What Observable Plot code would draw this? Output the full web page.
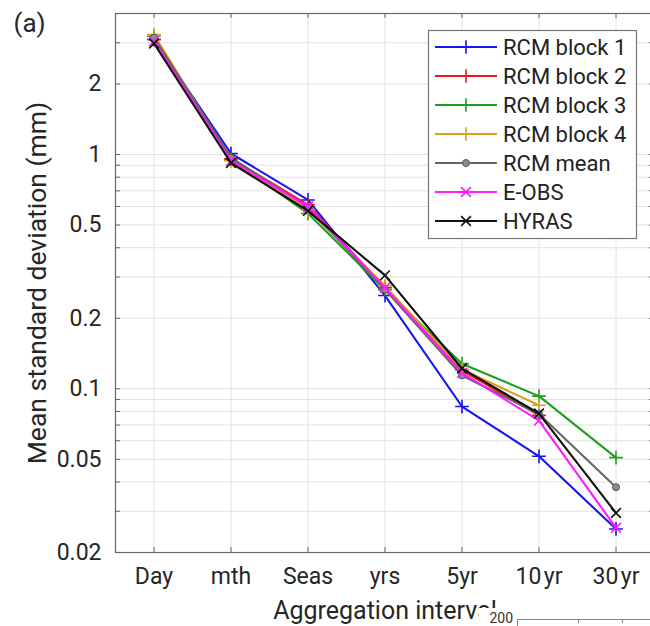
<!DOCTYPE html>
<html><head><meta charset="utf-8">
<script src="https://cdn.jsdelivr.net/npm/d3@7"></script>
<script src="https://cdn.jsdelivr.net/npm/@observablehq/plot@0.6"></script>
<style>
body{margin:0;background:#fff}
#wrap{position:relative;width:650px;height:626px;overflow:hidden;background:#fff}
#wrap svg{position:absolute;left:0;top:0}
</style></head><body><div id="wrap"></div>
<script>
// ---- data ----
const intervals = ["Day", "mth", "Seas", "yrs", "5yr", "10\u200ayr", "30\u200ayr"];
const rcmBlock1 = [3.10, 1.01, 0.64, 0.250, 0.084, 0.0515, 0.0252];
const rcmBlock2 = [3.10, 0.96, 0.61, 0.270, 0.120, 0.0770, null];
const rcmBlock3 = [3.20, 0.95, 0.56, 0.265, 0.128, 0.0930, 0.0508];
const rcmBlock4 = [3.25, 0.94, 0.58, 0.275, 0.121, 0.0850, null];
const rcmMean   = [3.16, 0.97, 0.595, 0.265, 0.114, 0.0780, 0.0380];
const eobs      = [3.05, 0.94, 0.60, 0.270, 0.117, 0.0731, 0.0255];
const hyras     = [2.98, 0.92, 0.575, 0.305, 0.122, 0.0784, 0.0295];

const seriesNames  = ["RCM block 1", "RCM block 2", "RCM block 3", "RCM block 4", "RCM mean", "E-OBS", "HYRAS"];
const seriesValues = [rcmBlock1, rcmBlock2, rcmBlock3, rcmBlock4, rcmMean, eobs, hyras];
const seriesColors = ["#1515f0", "#f01515", "#1e9e1e", "#d9a21c", "#666666", "#ff1aff", "#111111"];
const seriesSymbols = ["plus", "plus", "plus", "plus", "circle", "times", "times"];

const yTickValues = [0.02, 0.05, 0.1, 0.2, 0.5, 1, 2];
const yTickLabels = ["0.02", "0.05", "0.1", "0.2", "0.5", "1", "2"];
const yGridValues = [0.02, 0.03, 0.04, 0.05, 0.06, 0.07, 0.08, 0.09,
                     0.1, 0.2, 0.3, 0.4, 0.5, 0.6, 0.7, 0.8, 0.9, 1, 2, 3, 4];
const xIndex = intervals.map((_, i) => i + 1);

// ---- layout ----
const W = 650, H = 626, ML = 115, MT = 13, MB = 74, MR = -4;
const frameW = W - ML - MR, frameH = H - MT - MB;
const FONT = "Roboto, 'Liberation Sans', sans-serif";
const TXT = "#262626";

const rows = [];
seriesNames.forEach((name, s) => seriesValues[s].forEach((v, i) => {
  if (v != null) rows.push({series: name, s, i: i + 1, v});
}));

const marks = [
  Plot.ruleX(xIndex, {x: d => d, stroke: "#e2e2e2", strokeWidth: 1}),
  Plot.ruleY(yGridValues, {y: d => d, stroke: "#e2e2e2", strokeWidth: 1}),
  Plot.tickX(xIndex, {x: d => d, insetTop: frameH - 5, stroke: "#666"}),
  Plot.tickX(xIndex, {x: d => d, insetBottom: frameH - 5, stroke: "#666"}),
  Plot.tickY(yGridValues, {y: d => d, insetRight: frameW - 5, stroke: "#666"}),
  Plot.tickY(yGridValues, {y: d => d, insetLeft: frameW - 5, stroke: "#666"}),
  Plot.frame({stroke: "#666", strokeWidth: 1.2}),
  Plot.text(yTickValues, {y: d => d, text: (d, i) => yTickLabels[i], frameAnchor: "left", dx: -14,
    textAnchor: "end", lineAnchor: "middle", fontSize: 23, fill: TXT})
];
seriesNames.forEach((name, s) => {
  const d = rows.filter(r => r.s === s);
  marks.push(Plot.line(d, {x: "i", y: "v", stroke: seriesColors[s], strokeWidth: 2.1}));
  if (seriesSymbols[s] === "circle") {
    marks.push(Plot.dot(d, {x: "i", y: "v", r: 3.5, fill: "#8c8c8c", stroke: "#555", strokeWidth: 1}));
  } else {
    marks.push(Plot.dot(d, {x: "i", y: "v", r: 4.5, symbol: seriesSymbols[s], stroke: seriesColors[s], strokeWidth: 1.6}));
  }
});
marks.push(
  Plot.text(["Mean standard deviation (mm)"], {text: d => d, frameAnchor: "left", dx: -78, rotate: -90,
    textAnchor: "middle", lineAnchor: "middle", fontSize: 26.5, fill: TXT}),
  Plot.text(["Aggregation interval"], {text: d => d, frameAnchor: "bottom", dy: 66, lineAnchor: "bottom",
    textAnchor: "middle", fontSize: 25, fill: TXT}),
  Plot.text(["(a)"], {text: d => d, frameAnchor: "top-left", dx: -102, dy: 18, lineAnchor: "bottom",
    textAnchor: "start", fontSize: 26, fill: TXT})
);

const chart = Plot.plot({
  width: W, height: H,
  marginLeft: ML, marginTop: MT, marginBottom: MB, marginRight: MR,
  style: {fontFamily: FONT, fontSize: "23px", color: TXT, background: "#fff"},
  x: {domain: [0.5, 7.5], ticks: xIndex, tickFormat: i => intervals[i - 1], tickSize: 0, tickPadding: 15, label: null},
  y: {type: "log", domain: [0.02, 4], axis: null},
  marks
});
document.getElementById("wrap").appendChild(chart);

// ---- legend overlay ----
const ov = d3.create("svg").attr("width", W).attr("height", H).attr("viewBox", `0 0 ${W} ${H}`)
  .style("font-family", FONT);
ov.append("rect").attr("x", 428.5).attr("y", 30.5).attr("width", 208).attr("height", 208)
  .attr("fill", "#fff").attr("stroke", "#777").attr("stroke-width", 1.2);
const symMap = {plus: d3.symbolPlus, times: d3.symbolTimes, circle: d3.symbolCircle};
seriesNames.forEach((name, s) => {
  const cy = 47 + 29 * s;
  const g = ov.append("g");
  g.append("line").attr("x1", 435).attr("x2", 497).attr("y1", cy).attr("y2", cy)
    .attr("stroke", seriesColors[s]).attr("stroke-width", 2.1);
  const r = seriesSymbols[s] === "circle" ? 3.5 : 4.5;
  const p = g.append("path").attr("transform", `translate(466,${cy})`)
    .attr("d", d3.symbol(symMap[seriesSymbols[s]], Math.PI * r * r)());
  if (seriesSymbols[s] === "circle") p.attr("fill", "#8c8c8c").attr("stroke", "#555");
  else p.attr("fill", "none").attr("stroke", seriesColors[s]).attr("stroke-width", 1.6);
  g.append("text").attr("x", 503).attr("y", cy).attr("dy", "0.35em")
    .attr("font-size", 22).attr("fill", "#222").text(name);
});
// cropped neighbouring panel at bottom right
ov.append("rect").attr("x", 479).attr("y", 608).attr("width", 171).attr("height", 18).attr("fill", "#fff");
ov.append("text").attr("x", 513).attr("y", 623).attr("text-anchor", "end")
  .attr("font-size", 14).attr("fill", "#333").text("200");
ov.append("path").attr("d", "M517.5,626V619.5H650M578.5,619.5V623M622.5,619.5V623")
  .attr("fill", "none").attr("stroke", "#888").attr("stroke-width", 1);
document.getElementById("wrap").appendChild(ov.node());
</script></body></html>
